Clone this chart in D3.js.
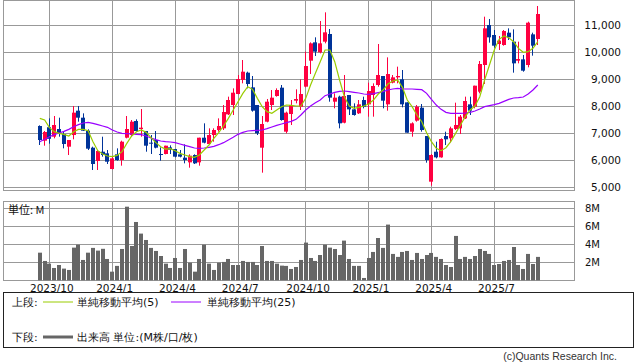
<!DOCTYPE html>
<html><head><meta charset="utf-8">
<script src="https://cdn.jsdelivr.net/npm/d3@7"></script>
<style>body{margin:0;background:#fff;} svg{display:block;} text{font-family:"DejaVu Sans",sans-serif;}</style>
</head><body><svg id="c" width="638" height="362"></svg>
<script>
const open=[7276,6731,7230,6879,7164,6978,6508,6941,7845,7585,7102,6471,5976,6322,6261,5679,6224,6013,6842,6941,7461,7164,7090,6657,6756,6236,6236,6483,6421,6224,6100,5926,6199,5926,6842,6607,6941,7127,7189,7709,8055,8464,8984,9256,8711,8055,6471,7436,8055,8389,8699,7065,7721,8216,7993,8736,9701,10382,10011,10407,10692,8179,8365,7399,8427,7894,7746,8241,8080,8427,8798,9132,8080,8885,9083,9008,8154,7065,7474,7956,6904,5209,6322,6112,6904,6818,7164,7189,7560,8080,7993,8550,9541,11026,10655,10320,10283,10741,10407,9701,9751,9541,10679,10506];
const high=[7300,7090,7560,7647,7585,7065,6756,8018,8018,7746,7152,6508,6384,6879,6384,6137,6446,6731,7647,7498,7523,7907,7090,6941,7090,6483,6545,6558,6421,6384,6595,6224,6224,6842,7375,7189,7189,7560,8055,8365,8674,9169,9726,9293,9132,8055,7647,8278,8612,8674,8798,7808,8241,8637,9008,10036,10382,10568,11174,11496,10877,8488,8402,9169,8427,8117,8241,8365,8885,8860,10320,9132,9825,9169,9479,9355,8154,7412,8055,8092,6904,6236,6694,6818,7065,7251,8142,7684,8365,8365,8773,9689,11335,11249,10840,10617,10840,10902,10865,10407,9912,11149,10741,11731];
const low=[6570,6545,6620,6818,6879,6446,6199,6781,7436,7090,6384,5642,5642,6137,5865,5666,5988,5803,6818,6879,7065,6879,6322,6236,6446,5988,6224,6236,6112,6112,5889,5728,5865,5803,6632,6570,6694,7065,7127,7684,7684,8451,8860,8674,7808,6941,5543,7412,7870,8365,7474,7003,7313,8117,7870,8711,9206,9875,9974,10345,8179,7932,7189,7375,7684,7660,7721,7932,7622,7622,8736,7932,7845,8860,8860,7969,7028,6879,7437,7065,5914,5060,6075,6100,6570,6669,7127,6978,7536,7684,7932,8488,8835,10370,10184,10098,10258,10469,9256,9602,9293,9454,9887,10283];
const close=[6756,7053,6800,7313,7003,6607,6756,7771,7585,7102,6434,5865,6347,6199,5951,6075,6013,6694,7164,7436,7090,7214,6545,6632,6471,6199,6545,6397,6137,6137,6013,6174,5889,6842,6657,6941,7127,7276,7795,8241,8513,9021,9293,8835,7845,7003,7350,8179,8328,8612,7498,7771,8055,8278,8464,9503,10345,10036,10345,10753,8328,8328,7375,8389,7894,7684,8080,7993,8575,8761,9169,8216,9206,9083,9132,8080,7028,7375,7993,7127,6013,6199,6112,6793,6781,7189,7313,7622,8204,7845,8773,9578,10902,10568,10258,10444,10803,10568,9602,9763,9330,11112,10258,11434];
const volume=[3.07,2.15,1.85,1.37,1.7,1.3,1.15,3.63,3.96,2.26,3.07,3.6,3.3,3.5,2.37,0.96,1.6,3.48,8.18,3.81,6.48,5.19,4.48,3.6,3.26,2.7,1.85,1.37,2.48,1.37,3.48,1.96,0.96,2.37,3.96,1.85,1.15,1.96,2.04,2.37,1.7,1.7,2.15,2.04,2.04,1.7,3.81,2.15,2.15,1.85,1.63,1.6,1.26,1.48,2.26,4.19,2.48,2.15,2.81,3.96,3.63,3.48,2.81,4.41,2.37,1.6,1.6,0.26,2.48,3.15,4.7,3.6,6.19,2.93,2.6,3.15,3.26,2.26,3.04,2.37,2.81,3.04,2.6,2.37,1.7,1.48,4.93,2.37,2.6,2.37,2.7,3.48,3.26,2.93,1.7,1.81,2.15,2.26,3.7,1.7,1.26,2.93,1.81,2.6];
const ma5=[7560,7498,7214,7065,7003,6966,6904,7065,7152,7152,7102,6694,6360,6236,6162,6137,6186,6322,6632,6904,7065,7127,7040,6842,6657,6508,6421,6434,6360,6261,6199,6137,6112,6199,6384,6570,6818,7028,7276,7560,7870,8179,8488,8736,8637,8303,7993,7808,7746,7870,7993,8055,8043,8018,8018,8303,8798,9231,9664,10098,10098,9664,8984,8365,8018,7932,7969,8018,8092,8241,8464,8612,8835,8946,8984,8711,8241,7993,7684,7436,7028,6694,6446,6360,6471,6694,7003,7313,7622,7870,8018,8365,8984,9541,10098,10494,10617,10555,10407,10159,10011,10036,10159,10407];
const ma25=[6694,6781,6879,6954,7016,7077,7152,7251,7325,7387,7412,7375,7325,7276,7226,7127,7053,7003,6991,6978,6966,6954,6904,6830,6768,6719,6694,6681,6657,6607,6558,6508,6459,6446,6459,6483,6521,6582,6657,6756,6855,6966,7040,7090,7102,7115,7127,7177,7238,7300,7350,7399,7449,7523,7684,7870,8018,8142,8241,8402,8464,8526,8563,8575,8550,8526,8501,8464,8451,8476,8513,8550,8612,8649,8674,8649,8649,8649,8637,8624,8488,8266,8055,7894,7783,7746,7746,7746,7758,7783,7833,7907,7993,8030,8068,8117,8191,8266,8315,8328,8352,8464,8612,8798];
const priceTicks=[5000,6000,7000,8000,9000,10000,11000];
const volTicks=[2,4,6,8];
const quarterMonths=[0,3,6,9];

const weeks=d3.timeMonday.range(new Date(2023,8,18), new Date(2025,8,15));
const svg=d3.select("#c");
const L=3.5,R=574.5,T1=0.5,B1=190.5,T2=201.5,B2=280.5;
const GRID="#999", RED="#ff0040", BLUE="#003399";
const x=d3.scaleBand().domain(d3.range(weeks.length)).range([37.38,540.22]);
const cx=i=>x(i)+x.bandwidth()/2;
const y=d3.scaleLinear().domain([5000,11000]).range([187.3,25.7]);
const yv=d3.scaleLinear().domain([0,8]).range([280.3,208.3]);
const crisp=v=>Math.floor(v)+0.5;

const tickIdx=weeks.map((d,i)=>i).filter(i=>i>0 && weeks[i].getMonth()!==weeks[i-1].getMonth() && quarterMonths.includes(weeks[i].getMonth()));
const fmt=d3.timeFormat("%Y/%-m");

const defs=svg.append("defs");
defs.append("clipPath").attr("id","cp1").append("rect").attr("x",L).attr("y",T1).attr("width",R-L).attr("height",B1-T1);

function grid(top,bot,ys){
  const g=svg.append("g").attr("stroke",GRID).attr("stroke-width",1).attr("fill","none");
  ys.forEach(v=>g.append("line").attr("x1",L).attr("x2",R).attr("y1",crisp(v)).attr("y2",crisp(v)));
  tickIdx.forEach(i=>g.append("line").attr("x1",crisp(cx(i))).attr("x2",crisp(cx(i))).attr("y1",top).attr("y2",bot));
  g.append("rect").attr("x",L).attr("y",top).attr("width",R-L).attr("height",bot-top);
}
grid(T1,B1,priceTicks.map(y));
grid(T2,B2,volTicks.map(yv));

const cg=svg.append("g").attr("clip-path","url(#cp1)");
d3.range(open.length).forEach(i=>{
  const up=close[i]>=open[i], col=up?RED:BLUE;
  cg.append("line").attr("x1",crisp(cx(i))).attr("x2",crisp(cx(i))).attr("y1",y(high[i])).attr("y2",y(low[i])).attr("stroke",col).attr("stroke-width",1);
  const t=y(Math.max(open[i],close[i])), b=y(Math.min(open[i],close[i]));
  cg.append("rect").attr("x",Math.round(cx(i))-2).attr("width",4).attr("y",t).attr("height",Math.max(1,b-t)).attr("fill",col);
});
const line=d3.line().x((d,i)=>cx(i)).y(d=>y(d));
cg.append("path").attr("d",line(ma25)).attr("fill","none").attr("stroke","#9a00ff").attr("stroke-width",1.2);
cg.append("path").attr("d",line(ma5)).attr("fill","none").attr("stroke","#99cc00").attr("stroke-width",1.2);

svg.append("g").selectAll("rect").data(volume).join("rect")
  .attr("x",(d,i)=>Math.round(cx(i))-2).attr("width",4)
  .attr("y",d=>yv(d)).attr("height",d=>yv(0)-yv(d)).attr("fill","#666");

const tx=svg.append("g").attr("fill","#111").attr("font-size","10.5px");
priceTicks.forEach(v=>tx.append("text").attr("x",621).attr("y",y(v)).attr("dy","0.36em").attr("text-anchor","end").text(d3.format(",")(v)));
volTicks.forEach(v=>tx.append("text").attr("x",585).attr("y",yv(v)).attr("dy","0.36em").attr("font-size","10px").text(v+"M"));
tickIdx.forEach(i=>tx.append("text").attr("x",cx(i)+2.3).attr("y",292).attr("text-anchor","middle").text(fmt(weeks[i])));
svg.append("text").attr("x",8).attr("y",210).attr("dy","0.36em").attr("font-size","11px").attr("fill","#111")
  .style("font-family","'Noto Sans CJK JP',sans-serif").text("単位: M");

svg.append("rect").attr("x",3.5).attr("y",292.5).attr("width",630).attr("height",55).attr("fill","none").attr("stroke","#222").attr("stroke-width",1);
const lg=svg.append("g").attr("font-size","11px").attr("fill","#111").style("font-family","'Noto Sans CJK JP',sans-serif");
const r1=302, r2=337;
lg.append("text").attr("x",12).attr("y",r1).attr("dy","0.36em").text("上段:");
lg.append("line").attr("x1",43).attr("x2",73).attr("y1",r1).attr("y2",r1).attr("stroke","#99cc00").attr("stroke-width",1);
lg.append("text").attr("x",77).attr("y",r1).attr("dy","0.36em").text("単純移動平均(5)");
lg.append("line").attr("x1",171).attr("x2",201).attr("y1",r1).attr("y2",r1).attr("stroke","#9a00ff").attr("stroke-width",1);
lg.append("text").attr("x",207).attr("y",r1).attr("dy","0.36em").text("単純移動平均(25)");
lg.append("text").attr("x",12).attr("y",r2).attr("dy","0.36em").text("下段:");
lg.append("line").attr("x1",43).attr("x2",73).attr("y1",r2).attr("y2",r2).attr("stroke","#666").attr("stroke-width",3);
lg.append("text").attr("x",77).attr("y",r2).attr("dy","0.36em").text("出来高 単位:(M株/口/枚)");
svg.append("text").attr("x",617).attr("y",356).attr("dy","0.36em").attr("text-anchor","end").attr("font-size","10.5px").attr("fill","#333")
  .style("font-family","'Liberation Sans',sans-serif").text("(c)Quants Research Inc.");
</script></body></html>
